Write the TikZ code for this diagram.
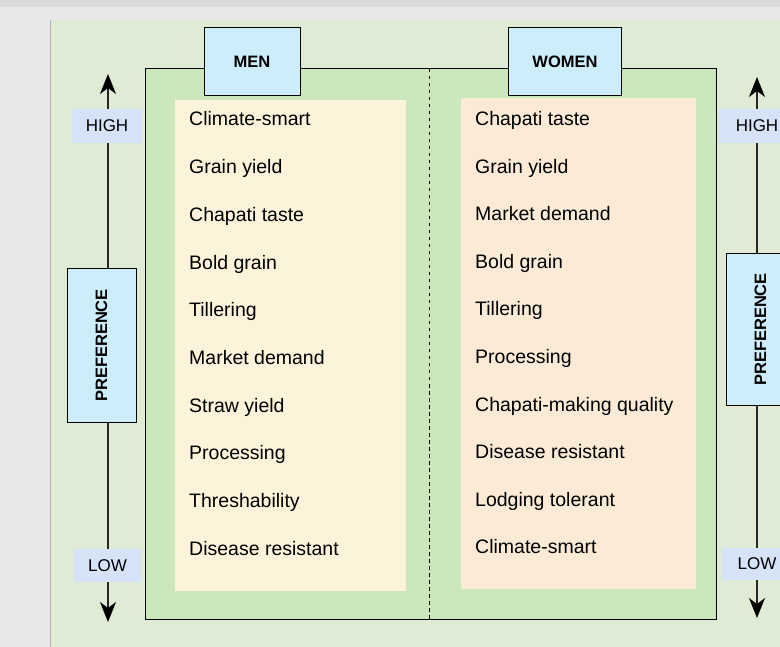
\documentclass[tikz,border=0pt]{standalone}
\usepackage{fontspec}
\setmainfont{Liberation Sans}
\usetikzlibrary{arrows.meta}
\definecolor{bgray}{HTML}{E8E8E8}
\definecolor{tgray}{HTML}{DBDBDB}
\definecolor{panel}{HTML}{E0EBD5}
\definecolor{inner}{HTML}{CDE7BD}
\definecolor{cream}{HTML}{FDF3DA}
\definecolor{peach}{HTML}{FBEBD6}
\definecolor{hdrblue}{HTML}{CDEDFB}
\definecolor{lvlblue}{HTML}{D6E2F7}
\definecolor{axis}{HTML}{262626}
\tikzset{
  hdr/.style={draw=black, line width=1pt, fill=hdrblue, inner sep=0pt, font=\fontsize{16.5}{19}\selectfont\bfseries},
  lvl/.style={fill=lvlblue, inner sep=0pt, minimum width=70pt, minimum height=34pt, font=\fontsize{17}{20}\selectfont},
  item/.style={anchor=base west, inner sep=0pt, font=\fontsize{19.5}{23}\selectfont},
  axisline/.style={draw=axis, line width=1.4pt},
  tip/.style={-{Stealth[length=20pt,width=16pt,inset=6pt,fill=black,color=black]}},
}
\begin{document}
\begin{tikzpicture}[x=1pt,y=-1pt]
\useasboundingbox (0,0) rectangle (780,647);
\fill[bgray] (0,0) rectangle (780,647);
\fill[tgray] (0,0) rectangle (780,7);
\fill[panel] (50,20) rectangle (780,647);
\draw[gray!60, line width=0.6pt] (50,20) -- (50,647);
% inner box
\draw[fill=inner, line width=1pt] (145,69) rectangle (716,619);
\fill[cream] (175,100) rectangle (406,591);
\fill[peach] (461,98) rectangle (696,589);
\coordinate (dtop) at (429,69);
\coordinate (dbot) at (429,619);
\draw[line width=1pt, dash pattern=on 3.5pt off 3.5pt] (dtop) -- (dbot);
% headers
\node[hdr, minimum width=96pt, minimum height=68pt] (men) at (252,62) {MEN};
\node[hdr, minimum width=113pt, minimum height=68pt] (women) at (565,62) {WOMEN};
% left column
\foreach \t [count=\i from 0] in {Climate-smart, Grain yield, Chapati taste, Bold grain, Tillering, Market demand, Straw yield, Processing, Threshability, Disease resistant}
  \node[item] (m\i) at (189,{126+47.7*\i}) {\t};
% right column
\foreach \t [count=\i from 0] in {Chapati taste, Grain yield, Market demand, Bold grain, Tillering, Processing, Chapati-making quality, Disease resistant, Lodging tolerant, Climate-smart}
  \node[item] (w\i) at (475,{125.5+47.6*\i}) {\t};
% left axis
\coordinate (ltop) at (108,74);
\coordinate (lbot) at (108,622);
\node[lvl] (lhigh) at (107,126) {HIGH};
\node[lvl, minimum width=67pt, minimum height=33pt] (llow) at (107.5,565.5) {LOW};
\node[hdr, minimum width=69pt, minimum height=153pt] (lpref) at (101.5,345.5) {\rotatebox{90}{PREFERENCE}};
\draw[axisline, tip] (lhigh.north -| ltop) -- (ltop);
\draw[axisline] (lhigh.south -| ltop) -- (lpref.north -| ltop);
\draw[axisline] (lpref.south -| ltop) -- (llow.north -| ltop);
\draw[axisline, tip] (llow.south -| lbot) -- (lbot);
% right axis
\coordinate (rtop) at (757,77);
\coordinate (rbot) at (757,618);
\node[lvl, minimum width=76pt] (rhigh) at (757,126) {HIGH};
\node[lvl, minimum width=70pt, minimum height=32pt] (rlow) at (757,564) {LOW};
\node[hdr, minimum width=69pt, minimum height=151pt] (rpref) at (760.5,329.5) {\rotatebox{90}{PREFERENCE}};
\draw[axisline, tip] (rhigh.north -| rtop) -- (rtop);
\draw[axisline] (rhigh.south -| rtop) -- (rpref.north -| rtop);
\draw[axisline] (rpref.south -| rtop) -- (rlow.north -| rtop);
\draw[axisline, tip] (rlow.south -| rbot) -- (rbot);
\end{tikzpicture}
\end{document}
